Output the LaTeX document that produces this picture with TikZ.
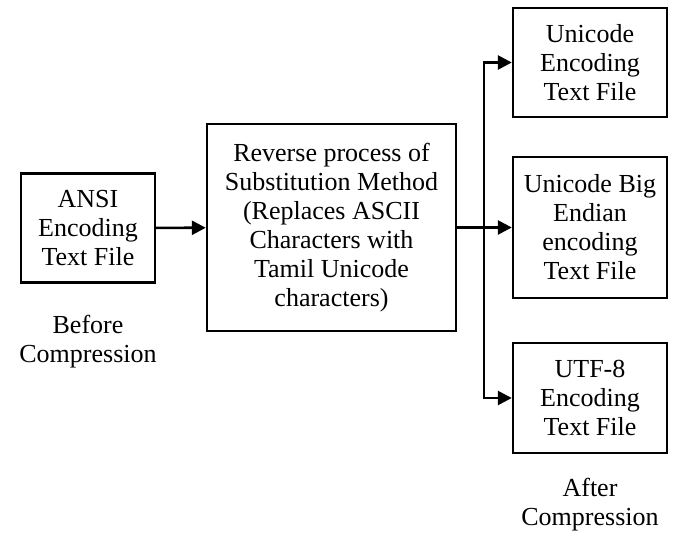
\documentclass[tikz,border=0pt]{standalone}
\usepackage{fontspec}
\setmainfont{Liberation Serif}
\usetikzlibrary{arrows.meta}
\begin{document}
\begin{tikzpicture}[x=1pt,y=-1pt,
  box/.style={draw,line width=2.4pt,align=center,inner sep=0pt,font=\fontsize{26}{29}\selectfont},
  lbl/.style={align=center,inner sep=0pt,font=\fontsize{26}{29}\selectfont},
  arr/.style={line width=2.6pt,-{Triangle[length=14pt,width=14pt]}},
  ln/.style={line width=2.6pt}]
\useasboundingbox (0,0) rectangle (675,537);
\node[box,minimum width=134pt,minimum height=109pt] (ansi) at (88,228) {ANSI\\Encoding\\Text File};
\node[box,minimum width=249pt,minimum height=207pt] (mid) at (331.5,227.5) {Reverse process of\\Substitution Method\\(Replaces ASCII\\Characters with\\Tamil Unicode\\characters)};
\node[box,minimum width=154pt,minimum height=109pt] (top) at (590,62.5) {Unicode\\Encoding\\Text File};
\node[box,minimum width=154pt,minimum height=141pt] (midr) at (590,227.5) {Unicode Big\\Endian\\encoding\\Text File};
\node[box,minimum width=154pt,minimum height=110pt] (bot) at (590,398) {UTF-8\\Encoding\\Text File};
\node[lbl] (before) at (88,342) {Before\\Compression};
\node[lbl] (after) at (590,505) {After\\Compression};
\coordinate (j) at (484,227.5);
\draw[arr] (ansi) -- (mid);
\draw[ln] (mid.east) -- (j);
\draw[arr] (j) -- (midr.west);
\draw[arr] (j) |- (top.west);
\draw[arr] (j) |- (bot.west);
\end{tikzpicture}
\end{document}
